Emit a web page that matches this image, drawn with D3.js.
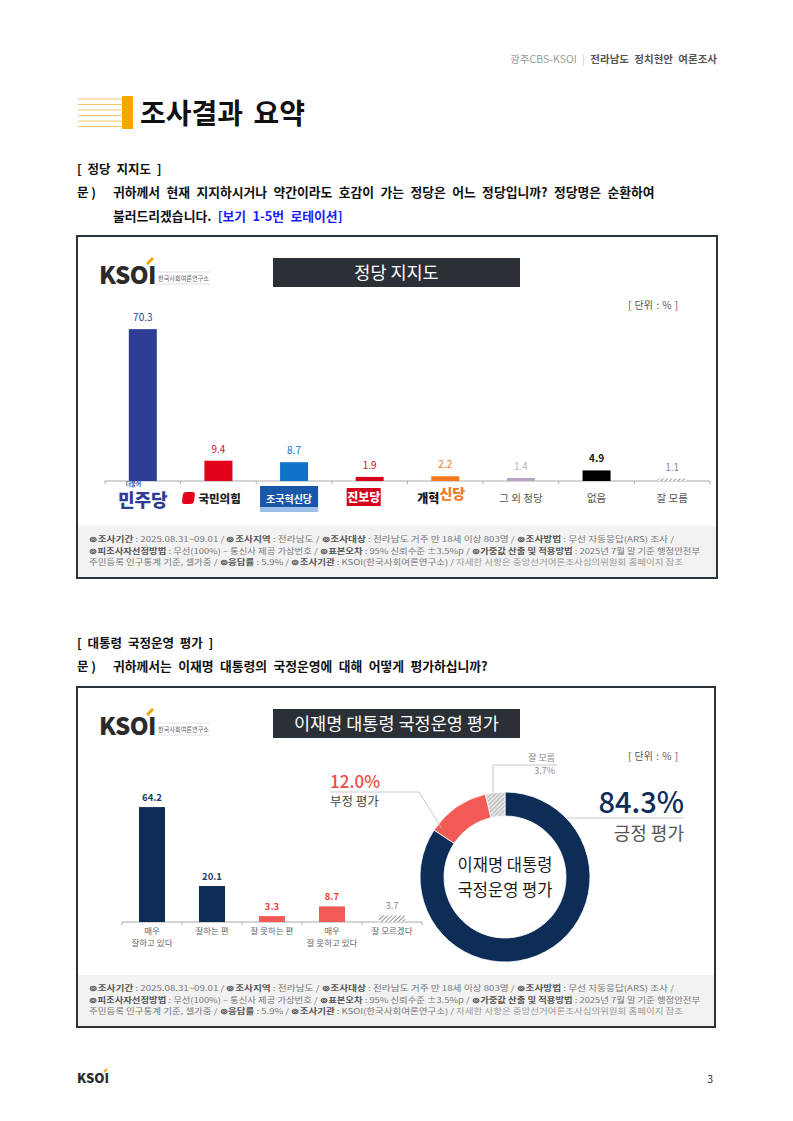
<!DOCTYPE html>
<html>
<head>
<meta charset="utf-8">
<script src="https://cdn.jsdelivr.net/npm/d3@7"></script>
<style>
  body { margin: 0; background: #fff; }
  text { font-family: "Noto Sans CJK KR", "Noto Sans", sans-serif; }
</style>
</head>
<body>
<div id="page"></div>
<script>
// ---- data ----
const partyNames = ['더불어민주당', '국민의힘', '조국혁신당', '진보당', '개혁신당', '그 외 정당', '없음', '잘 모름'];
const partyValues = [70.3, 9.4, 8.7, 1.9, 2.2, 1.4, 4.9, 1.1];
const partyColors = ['#2e3e94', '#e2001a', '#0d73c9', '#d7001b', '#f47a1f', '#b7a3c4', '#000000', 'hatch'];
const partyLabelColors = ['#2e3e94', '#e2001a', '#0d73c9', '#d7001b', '#f47a1f', '#b9b2c0', '#111111', '#8a8a8a'];

const evalNames = ['매우|잘하고 있다', '잘하는 편', '잘 못하는 편', '매우|잘 못하고 있다', '잘 모르겠다'];
const evalValues = [64.2, 20.1, 3.3, 8.7, 3.7];
const evalColors = ['#0d2d57', '#0d2d57', '#f25a55', '#f25a55', 'hatch'];
const evalLabelColors = ['#1e3a66', '#1e3a66', '#ee3b36', '#ee3b36', '#8a8a8a'];

const donutNames = ['긍정 평가', '부정 평가', '잘 모름'];
const donutValues = [84.3, 12.0, 3.7];
const donutColors = ['#0d2d57', '#f25a55', 'hatch'];

const footLines = [
  [['b', '⊚조사기간'], ['r', ' : 2025.08.31~09.01 / '], ['b', '⊚조사지역'], ['r', ' : 전라남도 / '], ['b', '⊚조사대상'], ['r', ' : 전라남도 거주 만 18세 이상 803명 / '], ['b', '⊚조사방법'], ['r', ' : 무선 자동응답(ARS) 조사 /']],
  [['b', '⊚피조사자선정방법'], ['r', ' : 무선(100%) – 통신사 제공 가상번호 / '], ['b', '⊚표본오차'], ['r', ' : 95% 신뢰수준 ±3.5%p / '], ['b', '⊚가중값 산출 및 적용방법'], ['r', ' : 2025년 7월 말 기준 행정안전부']],
  [['r', '주민등록 인구통계 기준, 셀가중 / '], ['b', '⊚응답률'], ['r', ' : 5.9% / '], ['b', '⊚조사기관'], ['r', ' : KSOI(한국사회여론연구소) / '], ['l', '자세한 사항은 중앙선거여론조사심의위원회 홈페이지 참조']]
];
const footWidths = [585, 611, 594];

// ---- page ----
const svg = d3.select('#page').append('svg')
  .attr('width', 793)
  .attr('height', 1121);

const defs = svg.append('defs');
const hatch = defs.append('pattern')
  .attr('id', 'hatch')
  .attr('patternUnits', 'userSpaceOnUse')
  .attr('width', 3).attr('height', 3)
  .attr('patternTransform', 'rotate(45)');
hatch.append('rect').attr('width', 3).attr('height', 3).attr('fill', '#fff');
hatch.append('line').attr('x1', 0).attr('y1', 0).attr('x2', 0).attr('y2', 3)
  .attr('stroke', '#666').attr('stroke-width', 1.4);

const hatch2 = defs.append('pattern')
  .attr('id', 'hatch2')
  .attr('patternUnits', 'userSpaceOnUse')
  .attr('width', 3).attr('height', 3)
  .attr('patternTransform', 'rotate(45)');
hatch2.append('rect').attr('width', 3).attr('height', 3).attr('fill', '#e4e4e4');
hatch2.append('line').attr('x1', 0).attr('y1', 0).attr('x2', 0).attr('y2', 3)
  .attr('stroke', '#9a9a9a').attr('stroke-width', 1.2);

const fillOf = c => c === 'hatch' ? 'url(#hatch)' : c;

// header
const head = svg.append('text').attr('x', 717).attr('y', 63)
  .attr('text-anchor', 'end').attr('font-size', 10.5).attr('word-spacing', 3);
head.append('tspan').attr('fill', '#9a9a9a').text('광주CBS-KSOI');
head.append('tspan').attr('fill', '#c8c8c8').text(' | ');
head.append('tspan').attr('fill', '#555').attr('font-weight', 700).text('전라남도 정치현안 여론조사');

// title icon
d3.range(6).forEach(i => {
  svg.append('line')
    .attr('x1', 78).attr('x2', 122)
    .attr('y1', 99 + i * 5.5).attr('y2', 99 + i * 5.5)
    .attr('stroke', '#f8c66a').attr('stroke-width', 1.2);
});
svg.append('rect').attr('x', 122).attr('y', 96).attr('width', 11).attr('height', 33).attr('fill', '#f5a700');
svg.append('text').attr('x', 140).attr('y', 124)
  .attr('font-size', 28).attr('font-weight', 700).attr('fill', '#111')
  .attr('word-spacing', 4)
  .text('조사결과 요약');

// question blocks
function question(y, heading, lines) {
  svg.append('text').attr('x', 77).attr('y', y)
    .attr('font-size', 12.5).attr('font-weight', 700).attr('fill', '#111')
    .attr('word-spacing', 3)
    .text(heading);
  svg.append('text').attr('x', 77).attr('y', y + 23)
    .attr('font-size', 12.5).attr('font-weight', 700).attr('fill', '#111')
    .text('문 )');
  lines.forEach((ln, i) => {
    const t = svg.append('text').attr('x', 113).attr('y', y + 23 + i * 24)
      .attr('font-size', 12.8).attr('font-weight', 700).attr('fill', '#111')
      .attr('word-spacing', 3.5);
    ln.forEach(seg => t.append('tspan').attr('fill', seg[1] || '#111').text(seg[0]));
  });
}

question(174, '[ 정당 지지도 ]', [
  [['귀하께서 현재 지지하시거나 약간이라도 호감이 가는 정당은 어느 정당입니까? 정당명은 순환하여']],
  [['불러드리겠습니다. '], ['[보기 1-5번 로테이션]', '#1a1aff']]
]);
question(648, '[ 대통령 국정운영 평가 ]', [
  [['귀하께서는 이재명 대통령의 국정운영에 대해 어떻게 평가하십니까?']]
]);

// chart frame
function frame(x, y, w, h, title) {
  svg.append('rect').attr('x', x).attr('y', y).attr('width', w).attr('height', h)
    .attr('fill', '#fff').attr('stroke', '#2e3338').attr('stroke-width', 2);
  svg.append('rect').attr('x', x + 1).attr('y', y + h - 52).attr('width', w - 2).attr('height', 51)
    .attr('fill', '#f2f2f2');
  // KSOI logo
  const lg = svg.append('g').attr('transform', `translate(${x + 22},${y + 48})`);
  lg.append('text').attr('x', 0).attr('y', 0)
    .attr('font-family', 'Lato, sans-serif').attr('font-size', 24).attr('font-weight', 900)
    .attr('fill', '#2b2b2b').attr('letter-spacing', -0.5).text('KSOI');
  lg.append('line').attr('x1', 48).attr('y1', -20).attr('x2', 54).attr('y2', -26)
    .attr('stroke', '#f5a700').attr('stroke-width', 3);
  lg.append('line').attr('x1', 58).attr('y1', -12).attr('x2', 111).attr('y2', -12).attr('stroke', '#ccc').attr('stroke-width', 0.6);
  lg.append('line').attr('x1', 58).attr('y1', 0).attr('x2', 111).attr('y2', 0).attr('stroke', '#ccc').attr('stroke-width', 0.6);
  lg.append('text').attr('x', 59).attr('y', -3.5).attr('font-size', 7).attr('fill', '#666')
    .attr('textLength', 51).attr('lengthAdjust', 'spacingAndGlyphs').text('한국사회여론연구소');
  // title bar
  svg.append('rect').attr('x', x + 196).attr('y', y + 22).attr('width', 247).attr('height', 29).attr('fill', '#2b3036');
  svg.append('text').attr('x', x + 196 + 123.5).attr('y', y + 43)
    .attr('text-anchor', 'middle').attr('font-size', 17.5).attr('fill', '#fff').text(title);
  svg.append('text').attr('x', x + 551).attr('y', y + 73)
    .attr('font-size', 10).attr('fill', '#555').attr('word-spacing', 1).text('[ 단위 : % ]');
  // footnote
  footLines.forEach((ln, i) => {
    const t = svg.append('text').attr('x', x + 12).attr('y', y + h - 36 + i * 11.5)
      .attr('font-size', 7.8).attr('fill', '#777')
      .attr('textLength', footWidths[i]).attr('lengthAdjust', 'spacingAndGlyphs');
    ln.forEach(seg => {
      const s = t.append('tspan').text(seg[1]);
      if (seg[0] === 'b') s.attr('font-weight', 700).attr('fill', '#555');
      if (seg[0] === 'l') s.attr('fill', '#999');
    });
  });
}

frame(77, 236, 640, 342, '정당 지지도');
frame(77, 687, 638, 340, '이재명 대통령 국정운영 평가');

// ---- chart 1: party support ----
const x1 = d3.scaleBand().domain(partyNames).range([105, 710]);
const y1 = d3.scaleLinear().domain([0, 100]).range([481, 265]);
const bw1 = 28;

const c1 = svg.append('g');
c1.append('line').attr('x1', 105).attr('x2', 710).attr('y1', 481).attr('y2', 481)
  .attr('stroke', '#aaa').attr('stroke-width', 1);
c1.selectAll('.tick1').data(partyNames.concat(['end']))
  .join('line')
  .attr('x1', (d, i) => i < partyNames.length ? x1(d) : 710)
  .attr('x2', (d, i) => i < partyNames.length ? x1(d) : 710)
  .attr('y1', 481).attr('y2', 484).attr('stroke', '#aaa');

c1.selectAll('rect.bar').data(partyValues)
  .join('rect')
  .attr('class', 'bar')
  .attr('x', (d, i) => x1(partyNames[i]) + (x1.bandwidth() - bw1) / 2)
  .attr('y', d => y1(d))
  .attr('width', bw1)
  .attr('height', d => y1(0) - y1(d))
  .attr('fill', (d, i) => fillOf(partyColors[i]));

c1.selectAll('text.val').data(partyValues)
  .join('text')
  .attr('class', 'val')
  .attr('x', (d, i) => x1(partyNames[i]) + x1.bandwidth() / 2)
  .attr('y', d => y1(d) - 8)
  .attr('text-anchor', 'middle')
  .attr('font-size', 10)
  .attr('font-weight', (d, i) => i === 6 ? 700 : 400)
  .attr('fill', (d, i) => partyLabelColors[i])
  .text(d => d.toFixed(1));

// party labels (logo-like)
const cx = i => x1(partyNames[i]) + x1.bandwidth() / 2;
const ly = 503;
// 더불어민주당
c1.append('text').attr('x', cx(0) - 17).attr('y', ly - 17).attr('font-size', 5.5).attr('fill', '#2e3e94')
  .attr('font-weight', 700).text('더불어');
c1.append('text').attr('x', cx(0)).attr('y', ly + 4).attr('text-anchor', 'middle')
  .attr('font-size', 18).attr('font-weight', 900).attr('fill', '#2e3e94').text('민주당');
// 국민의힘
c1.append('rect').attr('x', cx(1) - 36).attr('y', ly - 11).attr('width', 12).attr('height', 12)
  .attr('rx', 3).attr('fill', '#e2001a').attr('transform', `skewX(-8)`).attr('transform-origin', `${cx(1) - 30} ${ly - 5}`);
c1.append('text').attr('x', cx(1) - 20).attr('y', ly).attr('font-size', 11.5).attr('font-weight', 900)
  .attr('fill', '#222').text('국민의힘');
// 조국혁신당
c1.append('rect').attr('x', cx(2) - 34).attr('y', ly - 17).attr('width', 58).attr('height', 26).attr('fill', '#1b57a8');
c1.append('rect').attr('x', cx(2) - 34).attr('y', ly + 4).attr('width', 58).attr('height', 5).attr('fill', '#9cc0e8');
c1.append('text').attr('x', cx(2) - 5).attr('y', ly).attr('text-anchor', 'middle')
  .attr('font-size', 10).attr('font-weight', 700).attr('fill', '#fff').text('조국혁신당');
// 진보당
c1.append('rect').attr('x', cx(3) - 23).attr('y', ly - 15).attr('width', 34).attr('height', 18).attr('fill', '#d7001b');
c1.append('text').attr('x', cx(3) - 6).attr('y', ly - 1).attr('text-anchor', 'middle')
  .attr('font-size', 12).attr('font-weight', 900).attr('fill', '#fff').text('진보당');
// 개혁신당
const kt = c1.append('text').attr('x', cx(4) - 28).attr('y', ly).attr('font-weight', 900);
kt.append('tspan').attr('font-size', 12).attr('fill', '#111').text('개혁');
kt.append('tspan').attr('font-size', 14).attr('dy', -4).attr('fill', '#f47a1f').text('신당');
// plain labels
[5, 6, 7].forEach(i => {
  c1.append('text').attr('x', cx(i)).attr('y', ly - 1).attr('text-anchor', 'middle')
    .attr('font-size', 10.5).attr('fill', '#555').text(partyNames[i]);
});

// ---- chart 2: evaluation bars ----
const x2 = d3.scaleBand().domain(evalNames).range([122, 422]);
const y2 = d3.scaleLinear().domain([0, 100]).range([922, 743]);
const bw2 = 26;

const c2 = svg.append('g');
c2.append('line').attr('x1', 122).attr('x2', 422).attr('y1', 922).attr('y2', 922)
  .attr('stroke', '#aaa');
c2.selectAll('.tick2').data(evalNames.concat(['end']))
  .join('line')
  .attr('x1', (d, i) => i < evalNames.length ? x2(d) : 422)
  .attr('x2', (d, i) => i < evalNames.length ? x2(d) : 422)
  .attr('y1', 922).attr('y2', 925).attr('stroke', '#aaa');

c2.selectAll('rect.bar').data(evalValues)
  .join('rect')
  .attr('class', 'bar')
  .attr('x', (d, i) => x2(evalNames[i]) + (x2.bandwidth() - bw2) / 2)
  .attr('y', d => y2(d))
  .attr('width', bw2)
  .attr('height', d => y2(0) - y2(d))
  .attr('fill', (d, i) => fillOf(evalColors[i]));

c2.selectAll('text.val').data(evalValues)
  .join('text')
  .attr('class', 'val')
  .attr('x', (d, i) => x2(evalNames[i]) + x2.bandwidth() / 2)
  .attr('y', d => y2(d) - 6)
  .attr('text-anchor', 'middle')
  .attr('font-size', 9.5)
  .attr('font-weight', (d, i) => i < 4 ? 700 : 400)
  .attr('fill', (d, i) => evalLabelColors[i])
  .text(d => d.toFixed(1));

c2.selectAll('text.cat').data(evalNames)
  .join('text')
  .attr('class', 'cat')
  .attr('x', d => x2(d) + x2.bandwidth() / 2)
  .attr('y', 934)
  .attr('text-anchor', 'middle')
  .attr('font-size', 8.5)
  .attr('fill', '#666')
  .each(function(d) {
    d.split('|').forEach((p, j) => {
      d3.select(this).append('tspan')
        .attr('x', x2(d) + x2.bandwidth() / 2)
        .attr('dy', j === 0 ? 0 : 11.5)
        .text(p);
    });
  });

// ---- donut ----
const dc = { x: 505, y: 877 };
const pie = d3.pie().sort(null).value(d => d);
const arc = d3.arc().innerRadius(61).outerRadius(85);
const dg = svg.append('g').attr('transform', `translate(${dc.x},${dc.y})`);
dg.selectAll('path').data(pie(donutValues))
  .join('path')
  .attr('d', arc)
  .attr('fill', (d, i) => donutColors[i] === 'hatch' ? 'url(#hatch2)' : donutColors[i])
  .attr('stroke', '#fff').attr('stroke-width', 0.8);

dg.append('text').attr('text-anchor', 'middle').attr('font-size', 16.5).attr('fill', '#1a1a1a')
  .attr('x', 0).attr('y', -6).text('이재명 대통령');
dg.append('text').attr('text-anchor', 'middle').attr('font-size', 16.5).attr('fill', '#1a1a1a')
  .attr('x', 0).attr('y', 19).text('국정운영 평가');

// leaders
const lead = svg.append('g').attr('fill', 'none').attr('stroke', '#bbb').attr('stroke-width', 0.8);
lead.append('polyline').attr('points', '567,818 684,818');
lead.append('polyline').attr('points', '330,792 419,792 442,829');
lead.append('polyline').attr('points', '493,795 493,765 557,765');

svg.append('text').attr('x', 684).attr('y', 813).attr('text-anchor', 'end')
  .attr('font-size', 29).attr('font-weight', 500).attr('fill', '#0d2d57').text(donutValues[0].toFixed(1) + '%');
svg.append('text').attr('x', 684).attr('y', 840).attr('text-anchor', 'end')
  .attr('font-size', 18).attr('fill', '#555').text(donutNames[0]);
svg.append('text').attr('x', 330).attr('y', 788)
  .attr('font-size', 17).attr('font-weight', 500).attr('fill', '#ee4a45').text(donutValues[1].toFixed(1) + '%');
svg.append('text').attr('x', 330).attr('y', 806)
  .attr('font-size', 12.5).attr('fill', '#444').text(donutNames[1]);
svg.append('text').attr('x', 555).attr('y', 761).attr('text-anchor', 'end')
  .attr('font-size', 9).attr('fill', '#888').text(donutNames[2]);
svg.append('text').attr('x', 555).attr('y', 774).attr('text-anchor', 'end')
  .attr('font-size', 9).attr('fill', '#888').text(donutValues[2].toFixed(1) + '%');

// footer
const fl = svg.append('g').attr('transform', 'translate(77,1083)');
fl.append('text').attr('font-family', 'Lato, sans-serif').attr('font-size', 13).attr('font-weight', 900)
  .attr('fill', '#2b2b2b').text('KSOI');
fl.append('line').attr('x1', 27).attr('y1', -11).attr('x2', 30).attr('y2', -14)
  .attr('stroke', '#f5a700').attr('stroke-width', 1.8);
svg.append('text').attr('x', 713).attr('y', 1083).attr('text-anchor', 'end')
  .attr('font-size', 10).attr('fill', '#222').text('3');
</script>
</body>
</html>
